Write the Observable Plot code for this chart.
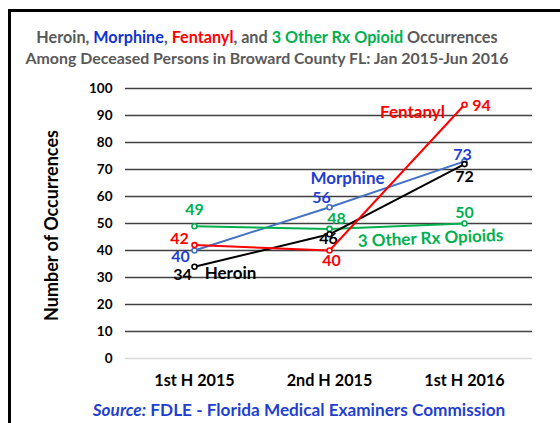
<!DOCTYPE html>
<html><head><meta charset="utf-8">
<script src="https://cdn.jsdelivr.net/npm/d3@7"></script>
<script src="https://cdn.jsdelivr.net/npm/@observablehq/plot@0.6"></script>
<style>
body{margin:0;background:#fff;font-family:Lato,"Open Sans",sans-serif}
#wrap{position:relative;width:560px;height:423px;overflow:hidden;background:#fff}
#frame{position:absolute;left:8px;top:9px;width:600px;height:500px;border-top:3px solid #000;border-left:3px solid #000;box-sizing:border-box}
#title{position:absolute;left:0;top:26px;width:534px;text-align:center;font-weight:bold;font-size:16.2px;line-height:21px;color:#595959;white-space:nowrap}
#title .l2{font-size:15.9px}
#chart{position:absolute;left:0;top:0}
#source{position:absolute;left:0;top:399px;width:598px;text-align:center;font-weight:bold;font-size:17.2px;line-height:22px;color:#1F3FCF;white-space:nowrap}
</style></head>
<body>
<div id="wrap">
<div id="frame"></div>
<div id="chart"></div>
<div id="title"><span>Heroin, </span><span style="color:#1033D0">Morphine</span><span>, </span><span style="color:#FF0000">Fentanyl</span><span>, and </span><span style="color:#00B050">3 Other Rx Opioid</span><span> Occurrences</span><br><span class="l2">Among Deceased Persons in Broward County FL: Jan 2015-Jun 2016</span></div>
<div id="source"><i>Source:</i> FDLE - Florida Medical Examiners Commission</div>
</div>
<script>
// ---- data ----
const periods = ["1st H 2015", "2nd H 2015", "1st H 2016"];
const heroin = [34, 46, 72];
const morphine = [40, 56, 73];
const fentanyl = [42, 40, 94];
const otherRx = [49, 48, 50];
const seriesNames = ["Heroin", "Morphine", "Fentanyl", "3 Other Rx Opioids"];
const yTicks = [0, 10, 20, 30, 40, 50, 60, 70, 80, 90, 100];

// ---- styles (label offsets in px, colours) ----
const styles = {
  "Heroin":   {values: heroin,   line: "#000000", text: "#000000", off: [[-12, 8], [-1, 5], [0, 13]],  nameAt: 0, nameOff: [36, 7], rot: 0},
  "Morphine": {values: morphine, line: "#4472C4", text: "#1F3FCF", off: [[-14, 6], [-8, -9], [-2, -7]], nameAt: 1, nameOff: [18, -29], rot: 0},
  "Fentanyl": {values: fentanyl, line: "#FF0000", text: "#FF0000", off: [[-15, -6], [2, 10], [17, 1]],  nameAt: 2, nameOff: [-52, 8], rot: 0},
  "3 Other Rx Opioids": {values: otherRx, line: "#00B050", text: "#00B050", off: [[0, -16], [7, -10], [0, -11]], nameAt: 2, nameOff: [-34, 15], rot: -2.4}
};

const drawOrder = ["Morphine", "3 Other Rx Opioids", "Heroin", "Fentanyl"];
const marks = [
  Plot.ruleY(yTicks.filter(d => d > 0), {stroke: "#404040", strokeWidth: 1.3}),
  Plot.ruleY([0], {stroke: "#d9d9d9", strokeWidth: 1.3}),
  Plot.axisY({ticks: yTicks, tickSize: 0, tickPadding: 13, fontSize: 13.5, label: null, tickFormat: d => String(d)}),
  Plot.axisX({tickSize: 0, tickPadding: 16, fontSize: 16.2, label: null}),
  Plot.text(["Number of Occurrences"], {frameAnchor: "left", textAnchor: "middle", rotate: -90, dx: -73, dy: 2, fontSize: 18, fill: "#000"})
];
for (const name of drawOrder) {
  const s = styles[name];
  const rows = periods.map((p, i) => ({period: p, value: s.values[i], dx: s.off[i][0], dy: s.off[i][1]}));
  marks.push(Plot.line(rows, {x: "period", y: "value", stroke: s.line, strokeWidth: 2}));
  marks.push(Plot.dot(rows, {x: "period", y: "value", r: 2.5, stroke: s.line, fill: "#fff", strokeWidth: 1.6}));
  for (let i = 0; i < rows.length; i++) {
    marks.push(Plot.text([rows[i]], {x: "period", y: "value", text: d => String(d.value), dx: rows[i].dx, dy: rows[i].dy, fill: s.text, fontSize: 16}));
  }
  const nr = rows[s.nameAt];
  marks.push(Plot.text([nr], {x: "period", y: "value", text: () => name, dx: s.nameOff[0], dy: s.nameOff[1], fill: s.text, fontSize: 17, rotate: s.rot}));
}

const chart = Plot.plot({
  width: 560, height: 423,
  marginLeft: 125, marginRight: 28, marginTop: 88, marginBottom: 65,
  x: {type: "point", domain: periods, padding: 0.5},
  y: {domain: [0, 100]},
  style: {fontFamily: "Lato, 'Open Sans', sans-serif", fontWeight: "bold", color: "#000", background: "transparent", overflow: "visible"},
  marks
});
document.getElementById("chart").appendChild(chart);
</script>
</body></html>
